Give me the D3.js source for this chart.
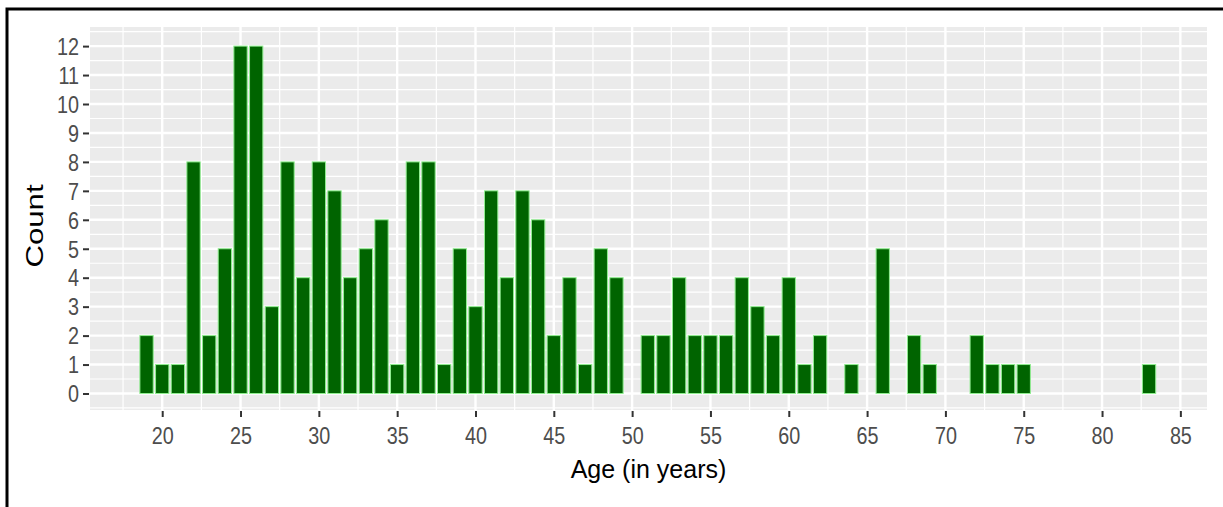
<!DOCTYPE html>
<html>
<head>
<meta charset="utf-8">
<script src="https://cdn.jsdelivr.net/npm/d3@7"></script>
<style>
  body { margin: 0; background: #fff; }
  text { font-family: "Liberation Sans", Arial, sans-serif; }
</style>
</head>
<body>
<div id="chart"></div>
<script>

// data (age -> count)
const ages   = [19, 20, 21, 22, 23, 24, 25, 26, 27, 28, 29, 30, 31, 32, 33, 34, 35, 36, 37, 38,
                39, 40, 41, 42, 43, 44, 45, 46, 47, 48, 49, 51, 52, 53, 54, 55, 56, 57, 58, 59,
                60, 61, 62, 64, 66, 68, 69, 72, 73, 74, 75, 83]
const counts = [2, 1, 1, 8, 2, 5, 12, 12, 3, 8, 4, 8, 7, 4, 5, 6, 1, 8, 8, 1,
                5, 3, 7, 4, 7, 6, 2, 4, 1, 5, 4, 2, 2, 4, 2, 2, 2, 4, 3, 2,
                4, 1, 2, 1, 5, 2, 1, 2, 1, 1, 1, 1]
const xTicks = [20, 25, 30, 35, 40, 45, 50, 55, 60, 65, 70, 75, 80, 85]
const yTicks = [0, 1, 2, 3, 4, 5, 6, 7, 8, 9, 10, 11, 12]
const xTitle = "Age (in years)"
const yTitle = "Count"

const W = 1223, H = 507
const margin = {top: 27, right: 16, bottom: 97, left: 90}
const width = W - margin.left - margin.right
const height = H - margin.top - margin.bottom

const svg0 = d3.select("#chart").append("svg")
    .attr("width", W)
    .attr("height", H)

// black frame (top and left edge visible)
svg0.append("path")
    .attr("d", `M7,${H} V9 H${W}`)
    .attr("fill", "none")
    .attr("stroke", "#000")
    .attr("stroke-width", 3)

const svg = svg0.append("g")
    .attr("transform", `translate(${margin.left},${margin.top})`)

const xScale = d3.scaleLinear()
    .domain([15.39, 86.7])
    .range([0, width])

const yScale = d3.scaleLinear()
    .domain([-0.57, 12.66])
    .range([height, 0])

// panel
svg.append("rect")
    .attr("width", width)
    .attr("height", height)
    .attr("fill", "#EBEBEB")

// minor grid
const xMinor = xTicks.map(d => d - 2.5).filter(d => d > xScale.domain()[0])
const yMinor = yTicks.map(d => d - 0.5).concat([12.5])

svg.append("g").selectAll("line")
    .data(xMinor)
    .join("line")
        .attr("x1", d => xScale(d)).attr("x2", d => xScale(d))
        .attr("y1", 0).attr("y2", height)
        .attr("stroke", "#fff").attr("stroke-width", 1.2)

svg.append("g").selectAll("line")
    .data(yMinor)
    .join("line")
        .attr("x1", 0).attr("x2", width)
        .attr("y1", d => yScale(d)).attr("y2", d => yScale(d))
        .attr("stroke", "#fff").attr("stroke-width", 1.2)

// major grid
svg.append("g").selectAll("line")
    .data(xTicks)
    .join("line")
        .attr("x1", d => xScale(d)).attr("x2", d => xScale(d))
        .attr("y1", 0).attr("y2", height)
        .attr("stroke", "#fff").attr("stroke-width", 2.4)

svg.append("g").selectAll("line")
    .data(yTicks)
    .join("line")
        .attr("x1", 0).attr("x2", width)
        .attr("y1", d => yScale(d)).attr("y2", d => yScale(d))
        .attr("stroke", "#fff").attr("stroke-width", 2.4)

// bars
const data = ages.map((a, i) => ({age: a, count: counts[i]}))
const barW = 0.85

svg.append("g").selectAll("rect")
    .data(data)
    .join("rect")
        .attr("x", d => xScale(d.age - barW / 2))
        .attr("width", d => xScale(d.age + barW / 2) - xScale(d.age - barW / 2))
        .attr("y", d => yScale(d.count))
        .attr("height", d => yScale(0) - yScale(d.count))
        .attr("fill", "#006400")
        .attr("stroke", "#90EE90")
        .attr("stroke-width", 1)

// axes
const xAxis = d3.axisBottom(xScale).tickValues(xTicks).tickSize(6).tickPadding(11)
const yAxis = d3.axisLeft(yScale).tickValues(yTicks).tickSize(6).tickPadding(4)

const xGroup = svg.append("g")
    .attr("transform", `translate(0, ${height + 1})`)
    .call(xAxis)

const yGroup = svg.append("g")
    .attr("transform", "translate(-1, 0)")
    .call(yAxis)

for (const g of [xGroup, yGroup]) {
    g.select(".domain").remove()
    g.selectAll(".tick line").attr("stroke", "#333").attr("stroke-width", 2)
    g.selectAll(".tick text")
        .attr("fill", "#4D4D4D")
        .style("font-size", "23px")
        .style("font-family", "'Liberation Sans', Arial, sans-serif")
}

// the tick labels in the picture are a bit narrow
xGroup.selectAll(".tick text").attr("transform", "scale(0.86,1)")
yGroup.selectAll(".tick text")
    .attr("dy", "0.36em")
    .attr("x", -10 / 0.86)
    .attr("transform", "scale(0.86,1)")

// titles
svg.append("text")
    .attr("x", width / 2)
    .attr("y", 478 - margin.top)
    .attr("text-anchor", "middle")
    .style("font-size", "25px")
    .attr("fill", "#000")
    .text(xTitle)

// y title is stretched along its length in the picture
svg.append("text")
    .attr("transform", `translate(${43 - margin.left}, ${226 - margin.top}) rotate(-90) scale(1.3,1)`)
    .attr("text-anchor", "middle")
    .style("font-size", "24px")
    .attr("fill", "#000")
    .text(yTitle)

</script>
</body>
</html>
